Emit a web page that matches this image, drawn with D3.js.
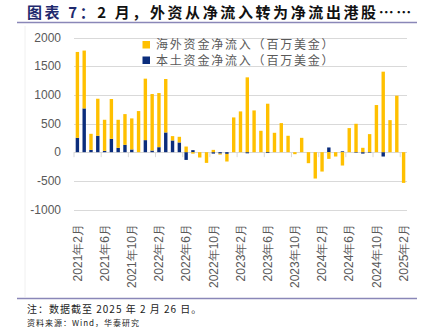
<!DOCTYPE html>
<html><head><meta charset="utf-8">
<script src="https://cdn.jsdelivr.net/npm/d3@7"></script>
<style>body{margin:0;background:#fff}svg{display:block}</style>
</head><body>
<svg id="c" width="427" height="327"></svg>
<script>
const months = ["2021年2月","2021年3月","2021年4月","2021年5月","2021年6月","2021年7月","2021年8月","2021年9月","2021年10月","2021年11月","2021年12月",
"2022年1月","2022年2月","2022年3月","2022年4月","2022年5月","2022年6月","2022年7月","2022年8月","2022年9月","2022年10月","2022年11月","2022年12月",
"2023年1月","2023年2月","2023年3月","2023年4月","2023年5月","2023年6月","2023年7月","2023年8月","2023年9月","2023年10月","2023年11月","2023年12月",
"2024年1月","2024年2月","2024年3月","2024年4月","2024年5月","2024年6月","2024年7月","2024年8月","2024年9月","2024年10月","2024年11月","2024年12月",
"2025年1月","2025年2月"];
const foreignFlow = [1498,1009,280,647,542,694,489,536,542,717,1072,985,944,932,76,99,98,-25,-93,-187,40,-17,-133,
606,711,1305,728,373,845,338,507,286,-35,250,-192,-460,-338,-117,-76,-233,420,495,76,315,822,1404,559,985,-536];
const localFlow = [250,763,40,285,23,233,76,128,47,0,210,29,87,344,204,169,-135,35,0,0,-25,-25,-30,
0,0,-20,0,0,-15,0,0,0,0,0,0,0,0,82,0,15,0,-10,-25,-10,0,-76,0,0,0];
const yTicks = [2000,1500,1000,500,0,-500,-1000];
const seriesNames = ["海外资金净流入（百万美金）","本土资金净流入（百万美金）"];
const colors = ["#FFC000","#0B2D7C"];

const svg = d3.select("#c");
const L=74,R=407,T=37.5,B=209.5;
const x = d3.scaleBand().domain(months).range([L,R]).paddingInner(0.5).paddingOuter(0.25);
const y = d3.scaleLinear().domain([-1000,2000]).range([B,T]);

// title
const title = svg.append("text").attr("x",27).attr("y",18).attr("font-family","Noto Sans CJK SC").attr("font-size",15).attr("font-weight","bold").attr("letter-spacing",2.6);
title.append("tspan").attr("fill","#1F2A6E").text("图表 7：");
title.append("tspan").attr("fill","#111").text("2 月，外资从净流入转为净流出港股……");
svg.append("line").attr("x1",17).attr("x2",417).attr("y1",22.5).attr("y2",22.5).attr("stroke","#8A87B8").attr("stroke-width",1.5);

// faint chart border
svg.append("line").attr("x1",25).attr("x2",25).attr("y1",26).attr("y2",297).attr("stroke","#f0f0f0");

// gridlines
svg.append("g").selectAll("line").data(yTicks).join("line")
  .attr("x1",L).attr("x2",R).attr("y1",d=>Math.round(y(d))+0.5).attr("y2",d=>Math.round(y(d))+0.5)
  .attr("stroke","#d9d9d9").attr("stroke-width",1);

// y labels
svg.append("g").selectAll("text").data(yTicks).join("text")
  .attr("x",61).attr("y",d=>y(d)).attr("dy","0.35em").attr("text-anchor","end")
  .attr("font-family","Liberation Sans, Arial").attr("font-size",12).attr("fill","#595959")
  .text(d=>d);

// bars
const rows = months.map((m,i)=>({m, f:foreignFlow[i], l:localFlow[i]}));
const stack = d3.stack().keys(["l","f"]).offset(d3.stackOffsetDiverging)(rows);
const colorOf = {l:colors[1], f:colors[0]};
svg.append("g").selectAll("g").data(stack).join("g").attr("fill",s=>colorOf[s.key])
  .selectAll("rect").data(s=>s).join("rect")
  .attr("x",d=>x(d.data.m)).attr("width",x.bandwidth())
  .attr("y",d=>y(Math.max(d[0],d[1]))).attr("height",d=>Math.abs(y(d[0])-y(d[1])));

// ticks on zero line
const tickIdx = d3.range(0,months.length,4);
const step = x.step();
svg.append("g").selectAll("line").data(tickIdx).join("line")
  .attr("x1",i=>x(months[i])+x.bandwidth()/2-step/2).attr("x2",i=>x(months[i])+x.bandwidth()/2-step/2)
  .attr("y1",y(0)).attr("y2",y(0)+5).attr("stroke","#d9d9d9");

// x labels
svg.append("g").selectAll("text").data(tickIdx).join("text")
  .attr("transform",i=>`translate(${x(months[i])+x.bandwidth()/2},224) rotate(-90)`)
  .attr("dy","0.35em").attr("text-anchor","end")
  .attr("font-family","Liberation Sans, Arial").attr("font-size",12).attr("fill","#595959")
  .text(i=>months[i]);

// legend
const lg = svg.append("g");
seriesNames.forEach((n,k)=>{
  lg.append("rect").attr("x",142.5).attr("y",41+k*15.5).attr("width",7.5).attr("height",7.5).attr("fill",colors[k]);
  lg.append("text").attr("x",156).attr("y",45+k*15.5).attr("dy","0.35em")
    .attr("font-family","Noto Sans CJK SC").attr("font-size",12).attr("letter-spacing",1.8).attr("fill","#595959").text(n);
});

// bottom rule and notes
svg.append("line").attr("x1",17).attr("x2",417).attr("y1",298.5).attr("y2",298.5).attr("stroke","#8A87B8").attr("stroke-width",1.5);
svg.append("text").attr("x",27).attr("y",312.5).attr("font-family","Noto Sans CJK SC").attr("font-size",10).attr("letter-spacing",1).attr("fill","#222")
  .text("注：数据截至 2025 年 2 月 26 日。");
svg.append("text").attr("x",27).attr("y",325.5).attr("font-family","Noto Sans CJK SC").attr("font-size",8).attr("letter-spacing",1).attr("fill","#222")
  .text("资料来源：Wind，华泰研究");
</script>
</body></html>
